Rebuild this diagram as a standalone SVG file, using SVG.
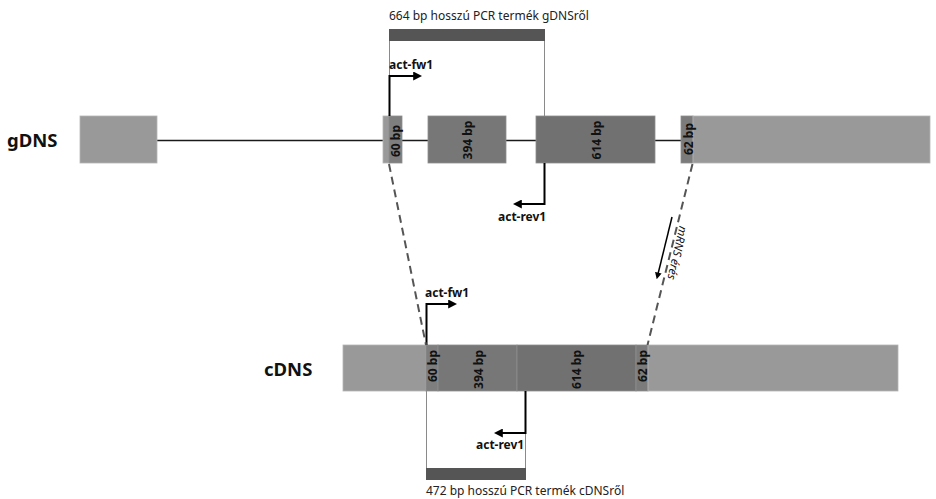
<svg xmlns="http://www.w3.org/2000/svg" width="936" height="499" viewBox="0 0 936 499">
<style>
text{font-family:"Noto Sans","Open Sans","DejaVu Sans",sans-serif;fill:#111}
.lbl{font-size:12px;fill:#222}
.b{font-weight:bold;font-size:12px}
.ebp{font-weight:bold;font-size:12px}
.big{font-weight:bold;font-size:18.5px}
.utr{fill:#999999;stroke:#b4b4b4;stroke-width:0.8}
.ex{stroke:#8e8e8e;stroke-width:0.8}
.pr{fill:none;stroke:#000;stroke-width:2;marker-end:url(#ah)}
.thin{fill:none;stroke:#8a8a8a;stroke-width:1}
.bar{fill:#555555}
.dash{fill:none;stroke:#555;stroke-width:2;stroke-dasharray:8 5}
</style>
<defs>
<marker id="ah" viewBox="0 0 10 10" refX="2" refY="5" markerWidth="4.5" markerHeight="4.5" orient="auto" markerUnits="strokeWidth">
<path d="M0,0 L10,5 L0,10 z" fill="#000"/>
</marker>
</defs>
<rect width="936" height="499" fill="#fff"/>

<g id="gDNS">
<text class="big" x="7" y="147">gDNS</text>
<line x1="157" y1="140.5" x2="681" y2="140.5" stroke="#1a1a1a" stroke-width="1.5"/>
<rect class="utr" x="80" y="116" width="77" height="47"/>
<rect class="utr" x="383" y="116" width="7" height="47"/>
<rect class="ex" x="389" y="116" width="13" height="47" fill="#7e7e7e"/>
<rect class="ex" x="428" y="116" width="78" height="47" fill="#777"/>
<rect class="ex" x="536" y="116" width="119" height="47" fill="#717171"/>
<rect class="ex" x="681" y="116" width="12" height="47" fill="#7b7b7b"/>
<rect class="utr" x="693" y="116" width="237" height="47"/>
<text class="ebp" text-anchor="middle" transform="translate(400,141) rotate(-90)">60 bp</text>
<text class="ebp" text-anchor="middle" transform="translate(472,140) rotate(-90)">394 bp</text>
<text class="ebp" text-anchor="middle" transform="translate(600.5,140) rotate(-90)">614 bp</text>
<text class="ebp" text-anchor="middle" transform="translate(692.5,139) rotate(-90)">62 bp</text>
</g>

<g id="cDNS">
<text class="big" x="264" y="376">cDNS</text>
<rect class="utr" x="343" y="345" width="83" height="46"/>
<rect class="ex" x="426" y="345" width="12" height="46" fill="#7e7e7e"/>
<rect class="ex" x="438" y="345" width="79" height="46" fill="#777"/>
<rect class="ex" x="517" y="345" width="119" height="46" fill="#717171"/>
<rect class="ex" x="636" y="345" width="12" height="46" fill="#7b7b7b"/>
<rect class="utr" x="648" y="345" width="250" height="46"/>
<text class="ebp" text-anchor="end" transform="translate(436.5,350) rotate(-90)">60 bp</text>
<text class="ebp" text-anchor="end" transform="translate(482.5,350) rotate(-90)">394 bp</text>
<text class="ebp" text-anchor="end" transform="translate(580.5,350) rotate(-90)">614 bp</text>
<text class="ebp" text-anchor="end" transform="translate(646.5,350) rotate(-90)">62 bp</text>
</g>

<g id="pcr-gDNS">
<text class="lbl" x="389" y="20">664 bp hosszú PCR termék gDNSről</text>
<rect class="bar" x="389" y="29" width="156" height="12"/>
<line class="thin" x1="389.5" y1="41" x2="389.5" y2="116"/>
<line class="thin" x1="544.5" y1="41" x2="544.5" y2="116"/>
</g>

<g id="pcr-cDNS">
<rect class="bar" x="426" y="468" width="100" height="12"/>
<line class="thin" x1="426.5" y1="391" x2="426.5" y2="468"/>
<line class="thin" x1="525.5" y1="391" x2="525.5" y2="468"/>
<text class="lbl" x="426" y="495">472 bp hosszú PCR termék cDNSről</text>
</g>

<g id="primer-gDNS-fw">
<text class="b" x="389" y="69">act-fw1</text>
</g>
<g id="primer-gDNS-rev">
<text class="b" x="498" y="221">act-rev1</text>
</g>
<g id="primer-cDNS-fw">
<text class="b" x="425" y="297">act-fw1</text>
</g>
<g id="primer-cDNS-rev">
<text class="b" x="476" y="449">act-rev1</text>
</g>
<g id="mrns-label">
<text style="font-size:11.5px;font-style:italic" text-anchor="middle" transform="translate(673.5,252) rotate(103)">mRNS érés</text>
</g>

<g id="connectors">
<path class="pr" d="M389.5,116 V76 H415"/>
<path class="pr" d="M544.5,163 V204 H520"/>
<path class="pr" d="M426.5,345 V304 H450"/>
<path class="pr" d="M525.5,391 V433 H501"/>
<line class="dash" x1="389" y1="164" x2="426" y2="345"/>
<line class="dash" x1="692.5" y1="164" x2="647.5" y2="345"/>
<line x1="672" y1="217" x2="658" y2="274" stroke="#000" stroke-width="1.5" marker-end="url(#ah)"/>
</g>
</svg>
